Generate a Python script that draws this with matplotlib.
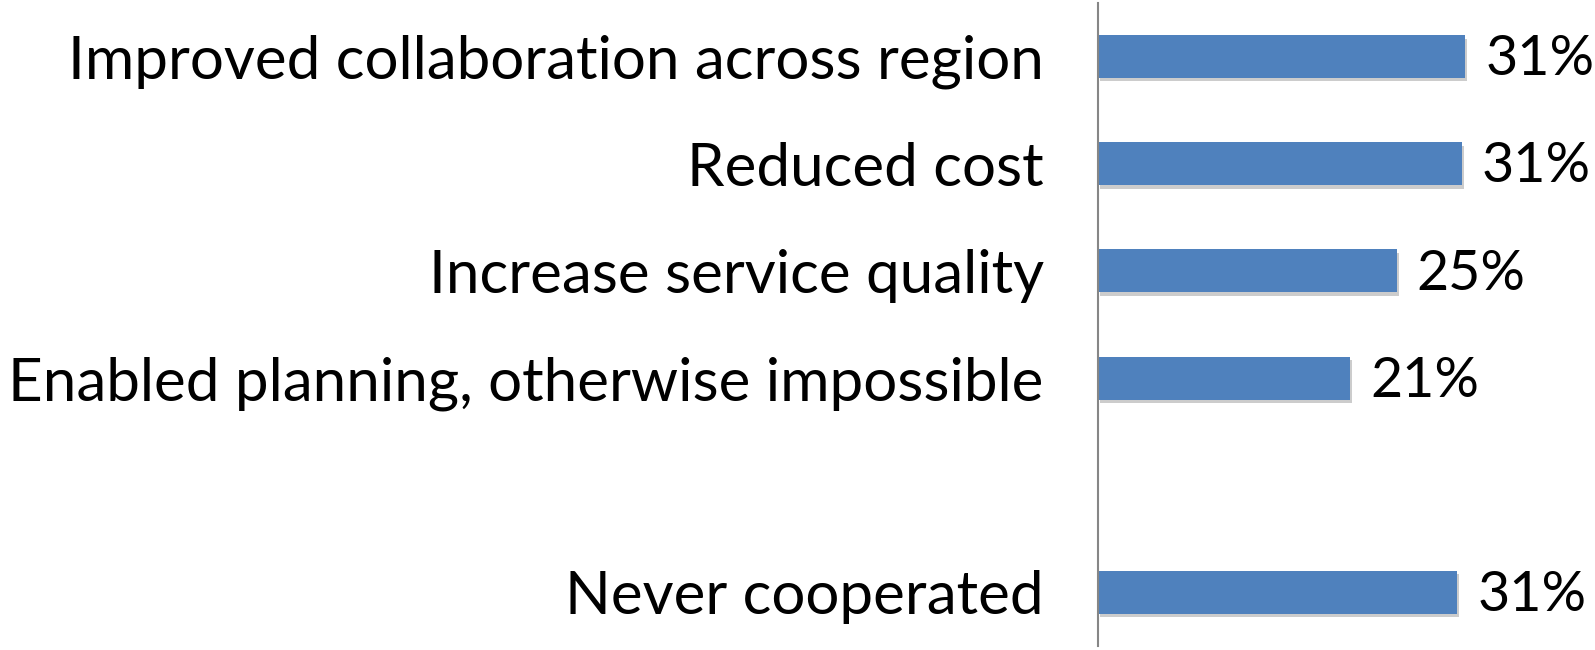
import matplotlib
matplotlib.use("Agg")
from matplotlib import pyplot as plt
import matplotlib.patheffects as pe

plt.rcParams.update({'font.family': ['Lato', 'DejaVu Sans']})

categories = ['Improved collaboration across region',
              'Reduced cost',
              'Increase service quality',
              'Enabled planning, otherwise impossible',
              '',
              'Never cooperated']
values = [0.31, 0.307, 0.252, 0.213, None, 0.303]
labels = ['31%', '31%', '25%', '21%', '', '31%']

fig = plt.figure(figsize=(15.95, 6.5), dpi=100)
ax = fig.add_axes([1098/1595, 4/650, 474/1595, 643/650])

for i, v in enumerate(values):
    if v is None:
        continue
    ax.barh(i, v, height=0.4, color='#4f81bd',
            path_effects=[pe.SimplePatchShadow(offset=(1.5, -2.5), shadow_rgbFace='#000000', alpha=0.2),
                          pe.Normal()])
    ax.text(v + 0.017, i + 0.03, labels[i], va='center', ha='left', fontsize=40)

ax.set_xlim(0, 0.4)
ax.set_ylim(5.5, -0.5)
ax.set_yticks(range(len(categories)))
ax.set_yticklabels(categories, fontsize=43.3)
ax.tick_params(axis='y', length=0, pad=39)
ax.set_xticks([])
for s in ['top', 'right', 'bottom']:
    ax.spines[s].set_visible(False)
ax.spines['left'].set_color('#868686')
ax.spines['left'].set_linewidth(1.5)

fig.savefig('out.png', dpi=100)
